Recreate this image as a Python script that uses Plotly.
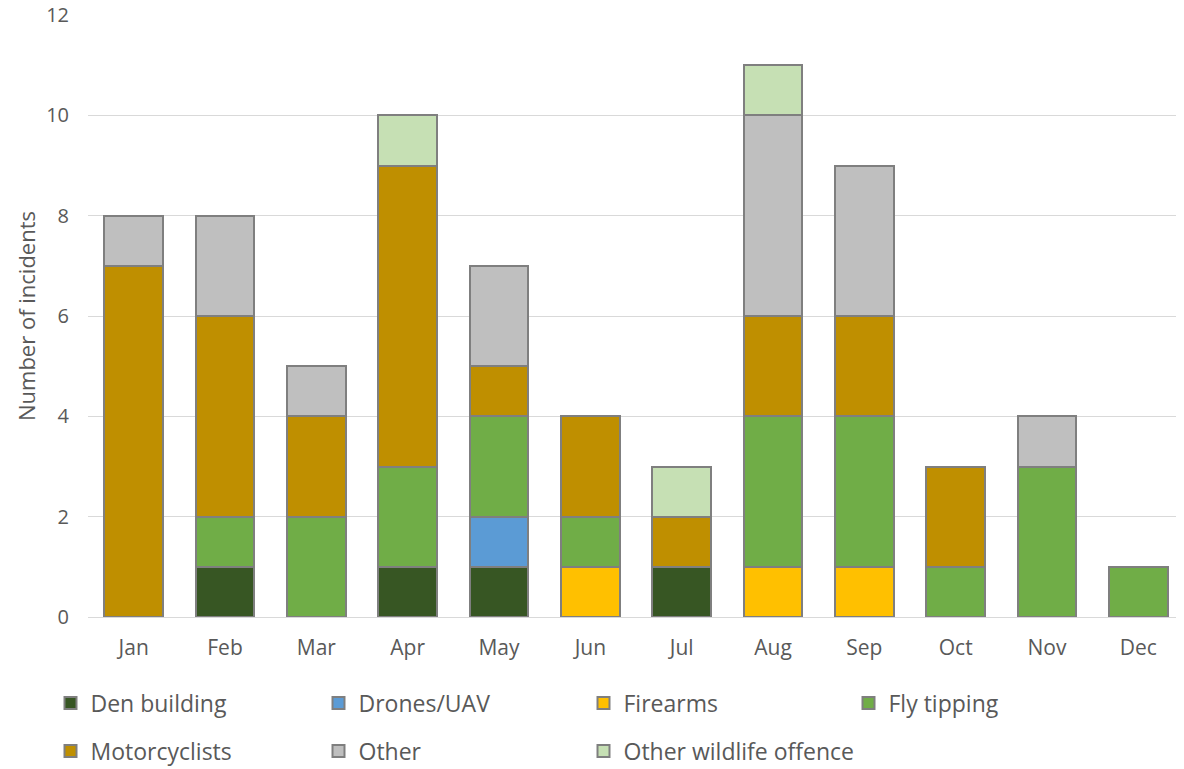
import plotly.graph_objects as go

months = ["Jan", "Feb", "Mar", "Apr", "May", "Jun", "Jul", "Aug", "Sep", "Oct", "Nov", "Dec"]
den_building = [0, 1, 0, 1, 1, 0, 1, 0, 0, 0, 0, 0]
drones_uav = [0, 0, 0, 0, 1, 0, 0, 0, 0, 0, 0, 0]
firearms = [0, 0, 0, 0, 0, 1, 0, 1, 1, 0, 0, 0]
fly_tipping = [0, 1, 2, 2, 2, 1, 0, 3, 3, 1, 3, 1]
motorcyclists = [7, 4, 2, 6, 1, 2, 1, 2, 2, 2, 0, 0]
other = [1, 2, 1, 0, 2, 0, 0, 4, 3, 0, 1, 0]
other_wildlife = [0, 0, 0, 1, 0, 0, 1, 1, 0, 0, 0, 0]

series_names = ["Den building", "Drones/UAV", "Firearms", "Fly tipping",
                "Motorcyclists", "Other", "Other wildlife offence"]
series_values = [den_building, drones_uav, firearms, fly_tipping,
                 motorcyclists, other, other_wildlife]
series_colors = ["#375623", "#5B9BD5", "#FFC000", "#70AD47",
                 "#BF8F00", "#BFBFBF", "#C6E0B4"]

font_family = "'Open Sans', 'Noto Sans', sans-serif"
plot_left, plot_width = 80, 1096
col_sym_page = [70, 338, 603, 868]
row_y = [-0.1429, -0.2226]

fig = go.Figure()
legend_layout = {}
for i, (name, vals, color) in enumerate(zip(series_names, series_values, series_colors)):
    key = "legend" if i == 0 else f"legend{i + 1}"
    ys = [v if v else None for v in vals]
    fig.add_trace(go.Bar(
        x=months, y=ys, name=name,
        marker=dict(color=color, line=dict(color="#7F7F7F", width=2)),
        legend=key,
    ))
    row, col = divmod(i, 4)
    left_fig = col_sym_page[col] - 6 - 13.5 - 8
    legend_layout[key] = dict(
        x=(left_fig - plot_left) / plot_width,
        y=row_y[row],
        xanchor="left",
        yanchor="middle",
        orientation="h",
        font=dict(family=font_family, size=23, color="#595959"),
        bgcolor="rgba(0,0,0,0)",
        itemclick=False,
    )

fig.update_layout(
    width=1176, height=761,
    margin=dict(l=plot_left, r=0, t=7, b=152, autoexpand=False),
    barmode="stack",
    bargap=0.355,
    plot_bgcolor="white",
    paper_bgcolor="white",
    font=dict(family=font_family, color="#595959"),
    xaxis=dict(
        tickfont=dict(size=21, color="#595959"),
        showgrid=False,
        showline=False,
        ticks="",
        ticklabelstandoff=16,
        automargin=False,
        ticklabeloverflow="allow",
    ),
    yaxis=dict(
        range=[0, 12],
        dtick=2,
        tickfont=dict(size=20, color="#595959"),
        gridcolor="#D9D9D9",
        gridwidth=1,
        zeroline=True,
        zerolinecolor="#D9D9D9",
        zerolinewidth=1,
        ticks="",
        ticklabelstandoff=18,
        automargin=False,
        ticklabeloverflow="allow",
        title=dict(text="Number of incidents", font=dict(size=22, color="#595959"), standoff=4),
    ),
    showlegend=True,
    **legend_layout,
)

fig.write_html("out.html")
